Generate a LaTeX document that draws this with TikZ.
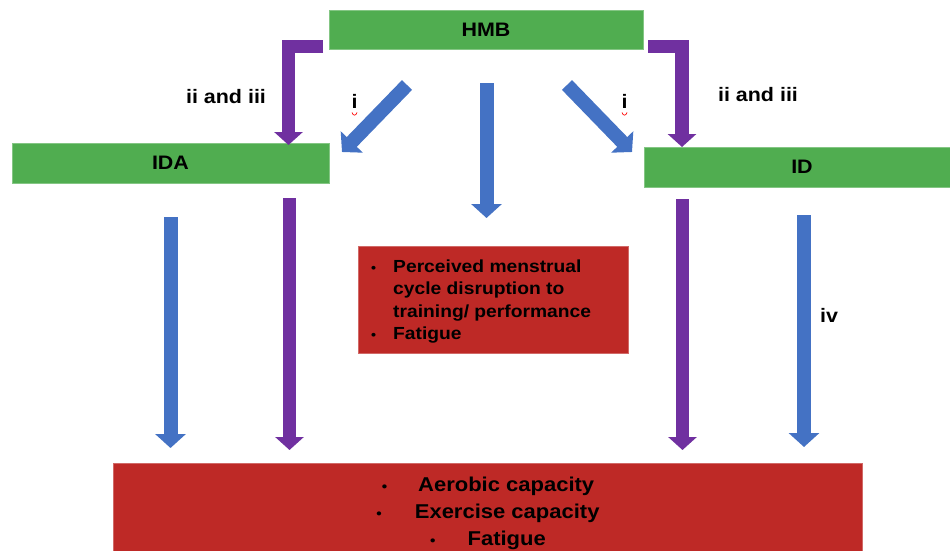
\documentclass[tikz,border=0pt]{standalone}
\usepackage{fontspec}
\setmainfont{Liberation Sans}[FakeStretch=1.1]
\usetikzlibrary{arrows.meta}
\definecolor{hgreen}{RGB}{80,173,80}
\definecolor{hblue}{RGB}{68,114,196}
\definecolor{hpurple}{RGB}{112,48,160}
\definecolor{hred}{RGB}{190,41,38}
\begin{document}
\begin{tikzpicture}[x=1pt,y=-1pt,
  gbox/.style={fill=hgreen, draw=hgreen!70!white, line width=0.6pt, inner sep=0pt, font=\bfseries\fontsize{19.5}{22}\selectfont},
  rbox/.style={fill=hred, draw=hred!70!white, line width=0.6pt, inner sep=0pt},
  bluearr/.style={draw=hblue, line width=14pt, -{Triangle[width=30pt,length=14pt]}},
  purparr/.style={draw=hpurple, line width=13.5pt, line join=miter, -{Triangle[width=28pt,length=13pt]}},
  lbl/.style={font=\bfseries\fontsize{19.5}{22}\selectfont},
  midtext/.style={font=\bfseries\fontsize{17.5}{22.3}\selectfont, inner sep=0pt},
  bigtext/.style={font=\bfseries\fontsize{20}{27}\selectfont, inner sep=0pt}]
\useasboundingbox (0,0) rectangle (950,551);
\fill[white] (0,0) rectangle (950,551);

% boxes
\node[gbox, minimum width=314pt, minimum height=39pt] (hmb) at (486,29.5) {HMB};
\node[gbox, minimum width=317pt, minimum height=40pt] (ida) at (170.5,163) {IDA};
\node[gbox, minimum width=306pt, minimum height=40pt] (id) at (797,167) {\hspace{10pt}ID};
\node[rbox, minimum width=270pt, minimum height=107pt] (res1) at (493,299.5) {};
\node[midtext, anchor=base west] (res1t) at (371,272.5)
  {\begin{tabular}[t]{@{}l@{\hspace{17pt}}l@{}}
   {\fontsize{13}{22.3}\selectfont\textbullet} & Perceived menstrual\\
   & cycle disruption to\\
   & training/ performance\\
   {\fontsize{13}{22.3}\selectfont\textbullet} & Fatigue
   \end{tabular}};
\node[rbox, minimum width=749pt, minimum height=89pt] (res2) at (487.5,507.5) {};
\node[bigtext, anchor=base] (res2t) at (488,491)
  {\begin{tabular}[t]{@{}c@{}}
   {\fontsize{14}{27}\selectfont\textbullet}\hspace{31pt}Aerobic capacity\\
   {\fontsize{14}{27}\selectfont\textbullet}\hspace{33pt}Exercise capacity\\
   {\fontsize{14}{27}\selectfont\textbullet}\hspace{32pt}Fatigue
   \end{tabular}};

% arrow end points
\coordinate (pl1) at (323,46.5);  \coordinate (pl2) at (288.5,145);
\coordinate (pr1) at (648,46.5);  \coordinate (pr2) at (682,147);
\coordinate (dl1) at (407,85);    \coordinate (dl2) at (342,152);
\coordinate (dr1) at (567,85);    \coordinate (dr2) at (632,152);
\coordinate (dc1) at (486.5,83);  \coordinate (dc2) at (486.5,218);
\coordinate (bl1) at (170.5,217); \coordinate (bl2) at (170.5,448);
\coordinate (ql1) at (289.5,198); \coordinate (ql2) at (289.5,450);
\coordinate (qr1) at (682.5,199); \coordinate (qr2) at (682.5,450);
\coordinate (br1) at (804,215);   \coordinate (br2) at (804,447);

% arrows
\draw[purparr] (pl1) -| (pl2);
\draw[purparr] (pr1) -| (pr2);
\draw[bluearr] (dl1) -- (dl2);
\draw[bluearr] (dr1) -- (dr2);
\draw[bluearr] (dc1) -- (dc2);
\draw[bluearr] (bl1) -- (bl2);
\draw[purparr] (ql1) -- (ql2);
\draw[purparr] (qr1) -- (qr2);
\draw[bluearr] (br1) -- (br2);

% labels
\node[lbl] (l1) at (226,97) {ii and iii};
\node[lbl] (l2) at (758,95) {ii and iii};
\node[lbl] (l3) at (354.5,101) {i};
\node[lbl] (l4) at (624.5,101) {i};
\node[lbl] (l5) at (829,315) {iv};
\draw[red, line width=0.7pt] (352,112.5) .. controls (353,116) and (356,116) .. (357,112.5);
\draw[red, line width=0.7pt] (622,112.5) .. controls (623,116) and (626,116) .. (627,112.5);
\end{tikzpicture}
\end{document}
